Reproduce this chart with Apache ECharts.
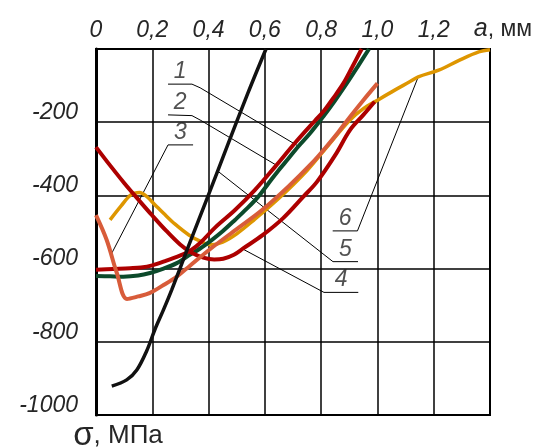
<!DOCTYPE html>
<html>
<head>
<meta charset="utf-8">
<script src="https://cdn.jsdelivr.net/npm/echarts@6/dist/echarts.min.js"></script>
<style>
  html, body { margin: 0; padding: 0; background: #fff; }
  #chart { width: 544px; height: 448px; }
</style>
</head>
<body>
<div id="chart"></div>
<script>
// Axis ticks and their labels
const xTicks = [0, 0.2, 0.4, 0.6, 0.8, 1.0, 1.2, 1.4];
const xTickLabels = ['0', '0,2', '0,4', '0,6', '0,8', '1,0', '1,2', '{i|a}{n|, мм}'];
const yTicks = [-1000, -800, -600, -400, -200, 0];
const yTickLabels = ['-1000', '-800', '-600', '-400', '-200', ''];

// Stress profiles σ(a): [depth a, mm; stress σ, MPa]
const curve1 = [[0,-620],[0.05,-621],[0.097,-622],[0.15,-619],[0.192,-612],[0.24,-600],[0.287,-585],[0.33,-564],[0.37,-545],[0.411,-522],[0.45,-498],[0.494,-467],[0.535,-437],[0.576,-404],[0.612,-368],[0.647,-333],[0.683,-300],[0.718,-267],[0.76,-231],[0.807,-185],[0.85,-140],[0.891,-94],[0.93,-48],[0.97,0]];
const curve2 = [[0,-603],[0.06,-601],[0.121,-599],[0.16,-597],[0.2,-591],[0.25,-578],[0.309,-561],[0.34,-548],[0.37,-530],[0.423,-488],[0.494,-440],[0.565,-385],[0.636,-322],[0.707,-257],[0.778,-196],[0.808,-171],[0.845,-132],[0.879,-94],[0.91,-50],[0.944,0]];
const curve3 = [[0,-454],[0.038,-522],[0.074,-612],[0.11,-683],[0.15,-676],[0.19,-667],[0.24,-645],[0.287,-622],[0.334,-592],[0.405,-547],[0.5,-492],[0.59,-440],[0.683,-376],[0.767,-312],[0.814,-271],[0.86,-228],[0.903,-185],[0.95,-140],[1.0,-94]];
const curve4 = [[0,-268],[0.05,-318],[0.1,-366],[0.15,-411],[0.2,-455],[0.25,-497],[0.3,-535],[0.34,-557],[0.381,-570],[0.42,-575],[0.452,-573],[0.49,-562],[0.523,-545],[0.593,-508],[0.665,-462],[0.736,-404],[0.785,-363],[0.85,-290],[0.903,-221],[0.95,-180],[0.99,-144]];
const curve5 = [[0.056,-921],[0.109,-904],[0.145,-877],[0.18,-825],[0.21,-765],[0.24,-712],[0.269,-658],[0.33,-536],[0.4,-398],[0.47,-258],[0.54,-120],[0.604,0]];
const curve6 = [[0.05,-467],[0.09,-428],[0.125,-398],[0.155,-392],[0.18,-403],[0.21,-426],[0.24,-449],[0.28,-478],[0.33,-508],[0.37,-525],[0.41,-535],[0.45,-528],[0.5,-505],[0.56,-468],[0.65,-408],[0.75,-332],[0.82,-268],[0.9,-196],[0.95,-163],[1.0,-140],[1.06,-113],[1.116,-89],[1.145,-76],[1.22,-57],[1.29,-31],[1.36,-8],[1.4,-2]];

// Leader lines from each curve number (drawn over an underline) to its curve
const curveNames = ['1', '2', '3', '4', '5', '6'];
const leader1 = [[0.256,-96],[0.341,-96],[0.37,-106],[0.718,-265]];
const leader2 = [[0.256,-180],[0.341,-182],[0.37,-194],[0.64,-317]];
const leader3 = [[0.345,-262],[0.256,-262],[0.056,-558]];
const leader4 = [[0.932,-665],[0.81,-665],[0.518,-545]];
const leader5 = [[0.931,-581],[0.842,-581],[0.435,-335]];
const leader6 = [[0.841,-497],[0.929,-497],[1.145,-76]];
// Where each number sits: middle of its underline
const nameAnchors = [[0.299,-96],[0.299,-181],[0.3,-262],[0.871,-665],[0.886,-581],[0.885,-497]];

const curves = [curve1, curve2, curve3, curve4, curve5, curve6];
const leaders = [leader1, leader2, leader3, leader4, leader5, leader6];
const colors = ['#0c4a2b', '#ad0000', '#d85c3a', '#ad0000', '#111111', '#de9600'];
const widths = [4, 4, 4, 4, 3.5, 3.5];
const drawOrder = [5, 0, 1, 3, 2, 4];

const FONT = '"Liberation Sans", Arial, sans-serif';
const TEXT = '#262626';

const series = [];

leaders.forEach((pts) => {
  series.push({
    type: 'line',
    silent: true,
    symbol: 'none',
    z: 1,
    lineStyle: { color: '#000', width: 1 },
    data: pts
  });
});

series.push({
  type: 'scatter',
  silent: true,
  symbolSize: 0,
  z: 10,
  label: {
    show: true, position: 'top', distance: 1,
    formatter: (p) => curveNames[p.dataIndex],
    fontFamily: FONT, fontStyle: 'italic', fontSize: 23, color: TEXT
  },
  data: nameAnchors
});

drawOrder.forEach((i, n) => {
  series.push({
    type: 'line',
    name: curveNames[i],
    silent: true,
    symbol: 'none',
    smooth: 0.35,
    z: 3 + n,
    lineStyle: { color: colors[i], width: widths[i] },
    data: curves[i]
  });
});

const chart = echarts.init(document.getElementById('chart'), null, { renderer: 'canvas' });
chart.setOption({
  animation: false,
  backgroundColor: '#fff',
  grid: {
    left: 96, top: 49, width: 394, height: 366,
    outerBoundsMode: 'none',
    show: true, borderColor: '#000', borderWidth: 2, backgroundColor: 'transparent'
  },
  xAxis: {
    type: 'value', position: 'top',
    min: xTicks[0], max: xTicks[xTicks.length - 1], interval: 0.2,
    axisLine: { show: true, lineStyle: { color: '#000', width: 2 } },
    axisTick: { show: false },
    splitLine: { show: true, lineStyle: { color: '#000', width: 1.5 } },
    axisLabel: {
      margin: 7,
      fontFamily: FONT, fontStyle: 'italic', fontSize: 23, color: TEXT,
      formatter: (v) => xTickLabels[xTicks.findIndex(t => Math.abs(t - v) < 1e-6)],
      rich: {
        i: { fontFamily: FONT, fontStyle: 'italic', fontSize: 25, color: TEXT, padding: [0, 0, 0, 26] },
        n: { fontFamily: FONT, fontStyle: 'normal', fontSize: 23, color: TEXT }
      }
    }
  },
  yAxis: {
    type: 'value',
    min: yTicks[0], max: yTicks[yTicks.length - 1], interval: 200,
    name: '{s|σ}{t|, МПа}',
    nameLocation: 'start',
    nameGap: 4,
    nameTextStyle: {
      padding: [0, 0, 0, 44],
      rich: {
        s: { fontFamily: FONT, fontSize: 33, color: TEXT },
        t: { fontFamily: FONT, fontSize: 26, color: TEXT }
      }
    },
    axisLine: { show: true, lineStyle: { color: '#000', width: 3 } },
    axisTick: { show: false },
    splitLine: { show: true, lineStyle: { color: '#000', width: 1.5 } },
    axisLabel: {
      margin: 18,
      verticalAlign: 'bottom',
      lineHeight: 19,
      fontFamily: FONT, fontStyle: 'italic', fontSize: 23, color: TEXT,
      formatter: (v) => yTickLabels[yTicks.indexOf(v)]
    }
  },
  series: series
});
</script>
</body>
</html>
